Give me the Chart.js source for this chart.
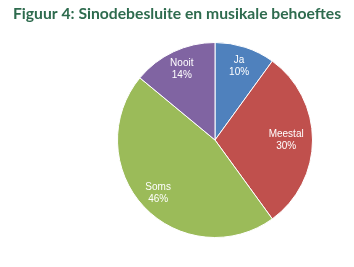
<!DOCTYPE html>
<html>
<head>
<meta charset="utf-8">
<script src="https://cdn.jsdelivr.net/npm/chart.js@4"></script>
<style>
  html, body { margin: 0; padding: 0; background: #fff; }
  #wrap { width: 354px; height: 267px; }
</style>
</head>
<body>
<div id="wrap"><canvas id="myChart" width="354" height="267"></canvas></div>
<script>
// categories
const labels = ["Ja", "Meestal", "Soms", "Nooit"];
// percentages
const values = [10, 30, 46, 14];
// slice colours
const colors = ["#4F81BD", "#C0504D", "#9BBB59", "#8064A2"];
const titleText = "Figuur 4: Sinodebesluite en musikale behoeftes";

// title across the full width (the built-in title gets squeezed by the padding)
const fullTitle = {
  id: "fullTitle",
  afterDraw(chart) {
    const ctx = chart.ctx;
    ctx.save();
    ctx.fillStyle = "#2e6b4e";
    ctx.font = "bold 15.7px Lato, sans-serif";
    ctx.textAlign = "center";
    ctx.textBaseline = "middle";
    ctx.fillText(titleText, chart.width / 2, 14);
    ctx.restore();
  },
};

// labels inside the slices
const sliceLabels = {
  id: "sliceLabels",
  afterDatasetsDraw(chart) {
    const ctx = chart.ctx;
    const meta = chart.getDatasetMeta(0);
    ctx.save();
    ctx.fillStyle = "#ffffff";
    ctx.font = "10px 'Liberation Sans', Arial, sans-serif";
    ctx.textAlign = "center";
    ctx.textBaseline = "middle";
    meta.data.forEach((arc, i) => {
      const mid = (arc.startAngle + arc.endAngle) / 2;
      const r = arc.outerRadius * (i === 1 ? 0.73 : 0.8);
      const x = arc.x + Math.cos(mid) * r;
      const y = arc.y + Math.sin(mid) * r;
      ctx.fillText(labels[i], x, y - 6);
      ctx.fillText(values[i] + "%", x, y + 6);
    });
    ctx.restore();
  },
};

const data = {
  labels: labels,
  datasets: [
    {
      data: values,
      backgroundColor: colors,
      borderColor: "#ffffff",
      borderWidth: 1,
    },
  ],
};

const config = {
  type: "pie",
  data: data,
  options: {
    responsive: false,
    animation: false,
    layout: {
      padding: { top: 42, bottom: 29, left: 117, right: 41 },
    },
    plugins: {
      legend: { display: false },
      tooltip: { enabled: false },
      title: { display: false },
    },
  },
  plugins: [sliceLabels, fullTitle],
};

const myChart = new Chart(document.getElementById("myChart"), config);
</script>
</body>
</html>
